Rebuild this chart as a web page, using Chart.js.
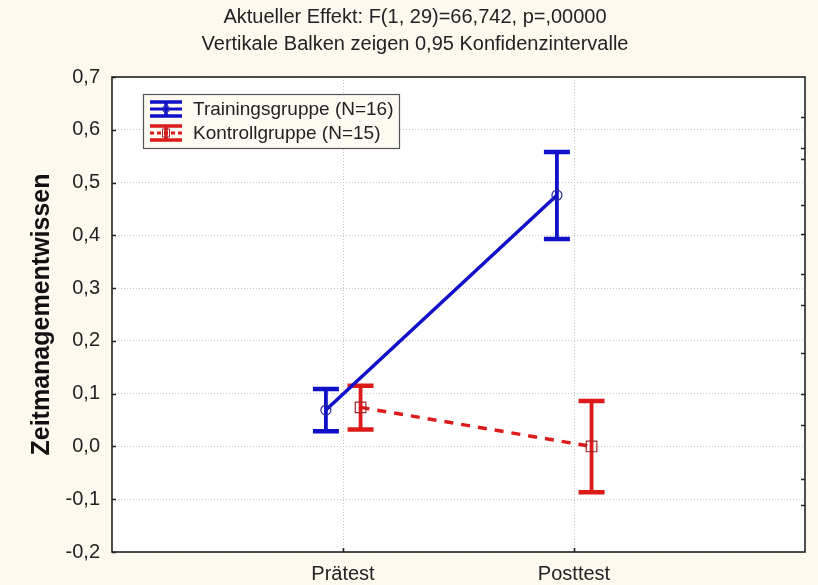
<!DOCTYPE html>
<html>
<head>
<meta charset="utf-8">
<script src="https://cdn.jsdelivr.net/npm/chart.js@4.4.1/dist/chart.umd.min.js"></script>
<style>
  html, body { margin: 0; padding: 0; background: #fdf9ef; }
  #wrap { width: 818px; height: 585px; position: relative; }
</style>
</head>
<body>
<div id="wrap"><canvas id="c" width="818" height="585"></canvas></div>
<script>
// ---- data ----
const categories = ['Prätest', 'Posttest'];
const titleLines = ['Aktueller Effekt: F(1, 29)=66,742, p=,00000', 'Vertikale Balken zeigen 0,95 Konfidenzintervalle'];
const yAxisTitle = 'Zeitmanagementwissen';
const yTickValues = [0.7, 0.6, 0.5, 0.4, 0.3, 0.2, 0.1, 0.0, -0.1, -0.2];
// short inward tick marks on the right frame edge (value positions)
const rightTickValues = [0.624, 0.565, 0.545, 0.457, 0.402, 0.327, 0.268, 0.177, 0.099, 0.041, -0.062, -0.111];

const trainingLabel = 'Trainingsgruppe (N=16)';
const trainingMean  = [0.069, 0.476];
const trainingLower = [0.029, 0.393];
const trainingUpper = [0.109, 0.558];

const controlLabel = 'Kontrollgruppe (N=15)';
const controlMean  = [0.074, 0.000];
const controlLower = [0.032, -0.087];
const controlUpper = [0.115, 0.086];

// ---- styling ----
const BLUE = '#1010c8';
const RED = '#dc1a1a';
const FONT = "'Liberation Sans', Arial, sans-serif";
const PAD_LEFT = 25;
const PLOT = { left: 112, right: 805, top: 77, bottom: 552 };

function pts(means, shift) {
  return means.map((m, i) => ({ x: i + 1 + shift, y: m }));
}

const datasets = [
  {
    label: trainingLabel,
    data: pts(trainingMean, -0.074),
    lower: trainingLower, upper: trainingUpper,
    borderColor: BLUE, backgroundColor: 'rgba(0,0,0,0)',
    borderWidth: 3.5, pointStyle: 'circle', pointRadius: 5,
    pointBorderWidth: 1.2, pointBorderColor: '#2a2aa0', pointBackgroundColor: 'rgba(0,0,0,0)',
    showLine: true, tension: 0, order: 1
  },
  {
    label: controlLabel,
    data: pts(controlMean, 0.076),
    lower: controlLower, upper: controlUpper,
    borderColor: RED, backgroundColor: 'rgba(0,0,0,0)',
    borderWidth: 3.5, borderDash: [9, 8], pointStyle: 'rect', pointRadius: 7.5,
    pointBorderWidth: 1.2, pointBorderColor: '#a02828', pointBackgroundColor: 'rgba(0,0,0,0)',
    showLine: true, tension: 0, order: 2
  }
];

const errorBars = {
  id: 'errorBars',
  beforeDatasetsDraw(chart) {
    const { ctx, scales: { x, y } } = chart;
    chart.data.datasets.forEach((ds) => {
      ds.data.forEach((p, i) => {
        const px = x.getPixelForValue(p.x);
        const yl = y.getPixelForValue(ds.lower[i]);
        const yu = y.getPixelForValue(ds.upper[i]);
        ctx.save();
        ctx.strokeStyle = ds.borderColor;
        ctx.lineWidth = 3.8;
        ctx.lineCap = 'butt';
        ctx.beginPath();
        ctx.moveTo(px, yl); ctx.lineTo(px, yu);
        ctx.stroke();
        ctx.lineWidth = 4.5;
        ctx.beginPath();
        ctx.moveTo(px - 13, yu); ctx.lineTo(px + 13, yu);
        ctx.moveTo(px - 13, yl); ctx.lineTo(px + 13, yl);
        ctx.stroke();
        ctx.restore();
      });
    });
  }
};

const frame = {
  id: 'frame',
  beforeDraw(chart) {
    const { ctx, chartArea: a } = chart;
    ctx.save();
    ctx.fillStyle = '#fdf9ef';
    ctx.fillRect(0, 0, chart.width, chart.height);
    ctx.fillStyle = '#ffffff';
    ctx.fillRect(a.left, a.top, a.right - a.left, a.bottom - a.top);
    ctx.restore();
  },
  afterDraw(chart) {
    const { ctx, chartArea: a, scales: { x, y } } = chart;
    ctx.save();
    ctx.strokeStyle = '#222';
    ctx.lineWidth = 1.6;
    ctx.strokeRect(a.left, a.top, a.right - a.left, a.bottom - a.top);
    // inward ticks
    ctx.lineWidth = 1.6;
    ctx.beginPath();
    yTickValues.forEach(v => {
      const py = Math.round(y.getPixelForValue(v)) + 0.5;
      ctx.moveTo(a.left, py); ctx.lineTo(a.left + 4, py);
    });
    rightTickValues.forEach(v => {
      const py = Math.round(y.getPixelForValue(v)) + 0.5;
      ctx.moveTo(a.right, py); ctx.lineTo(a.right - 4, py);
    });
    categories.forEach((c, i) => {
      const px = Math.round(x.getPixelForValue(i + 1)) + 0.5;
      ctx.moveTo(px, a.bottom); ctx.lineTo(px, a.bottom - 4);
    });
    ctx.stroke();

    // legend
    const lx = 143, ly = 94, lw = 256, lh = 54;
    ctx.fillStyle = '#fdfaf2';
    ctx.fillRect(lx, ly, lw, lh);
    ctx.strokeStyle = '#555';
    ctx.lineWidth = 1.2;
    ctx.strokeRect(lx + 0.5, ly + 0.5, lw, lh);
    chart.data.datasets.forEach((ds, i) => {
      const cy = ly + 15 + i * 24;
      const cx = lx + 23;
      ctx.strokeStyle = ds.borderColor;
      ctx.lineWidth = 3.5;
      ctx.setLineDash([]);
      ctx.beginPath();
      ctx.moveTo(cx - 16, cy - 7); ctx.lineTo(cx + 16, cy - 7);
      ctx.moveTo(cx - 16, cy + 7); ctx.lineTo(cx + 16, cy + 7);
      ctx.moveTo(cx, cy - 7); ctx.lineTo(cx, cy + 7);
      ctx.stroke();
      if (ds.borderDash) ctx.setLineDash([4, 3]);
      ctx.lineWidth = 3;
      ctx.beginPath();
      ctx.moveTo(cx - 16, cy); ctx.lineTo(cx + 16, cy);
      ctx.stroke();
      ctx.setLineDash([]);
      ctx.lineWidth = 1;
      ctx.strokeStyle = ds.pointBorderColor;
      ctx.beginPath();
      if (ds.pointStyle === 'circle') ctx.arc(cx, cy, 3.5, 0, Math.PI * 2);
      else ctx.rect(cx - 3.5, cy - 4, 7, 8);
      ctx.stroke();
      ctx.fillStyle = '#222';
      ctx.font = '19px ' + FONT;
      ctx.textBaseline = 'middle';
      ctx.textAlign = 'left';
      ctx.fillText(ds.label, lx + 50, cy + 1);
    });
    ctx.restore();
  }
};

new Chart(document.getElementById('c'), {
  type: 'scatter',
  data: { datasets },
  plugins: [frame, errorBars],
  options: {
    responsive: false,
    animation: false,
    layout: { padding: { left: PAD_LEFT, right: 818 - PLOT.right, top: 0, bottom: 0 } },
    plugins: {
      legend: { display: false },
      tooltip: { enabled: false },
      title: {
        display: true,
        text: titleLines,
        color: '#222',
        font: { family: FONT, size: 20, weight: 'normal', lineHeight: 1.35 },
        padding: { top: 3.5, bottom: PLOT.top - 3.5 - 2 * 20 * 1.35 }
      }
    },
    scales: {
      x: {
        type: 'linear', min: 0, max: 3,
        afterBuildTicks(s) { s.ticks = categories.map((c, i) => ({ value: i + 1 })); },
        afterFit(s) { s.height = 585 - PLOT.bottom; },
        ticks: {
          callback: (v) => categories[v - 1] || '',
          color: '#222', font: { family: FONT, size: 20 }, padding: 10, maxRotation: 0
        },
        grid: { color: '#c4c4c4', lineWidth: 1, drawTicks: false },
        border: { display: false, dash: [1, 2] }
      },
      y: {
        type: 'linear', min: -0.2, max: 0.7,
        afterBuildTicks(s) { s.ticks = yTickValues.map(v => ({ value: v })); },
        afterFit(s) { s.width = PLOT.left - PAD_LEFT; },
        ticks: {
          callback: (v) => v.toFixed(1).replace('.', ','),
          color: '#222', font: { family: FONT, size: 20 }, padding: 12
        },
        title: {
          display: true, text: yAxisTitle, color: '#111',
          font: { family: FONT, size: 25, weight: 'bold', lineHeight: 1.2 }, padding: { top: 2, bottom: 0 }
        },
        grid: { color: '#c4c4c4', lineWidth: 1, drawTicks: false },
        border: { display: false, dash: [1, 2] }
      }
    }
  }
});
</script>
</body>
</html>
